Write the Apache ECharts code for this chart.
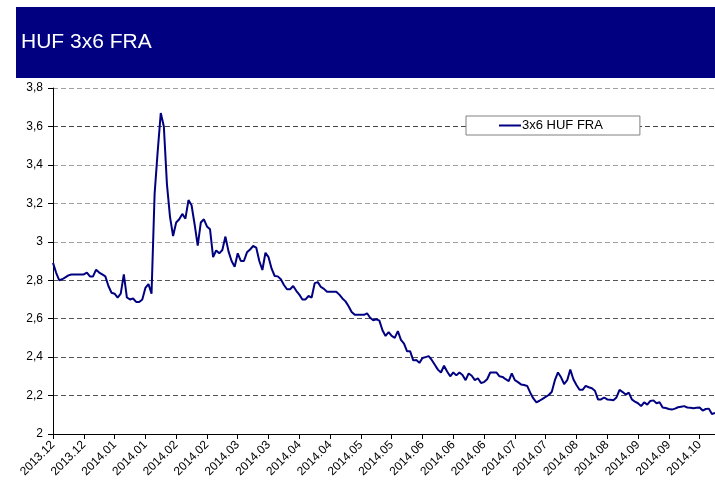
<!DOCTYPE html>
<html>
<head>
<meta charset="utf-8">
<script src="https://cdn.jsdelivr.net/npm/echarts@6/dist/echarts.min.js"></script>
<style>
  html, body { margin: 0; padding: 0; background: #fff; }
  #chart { width: 715px; height: 483px; }
</style>
</head>
<body>
<div id="chart"></div>
<script>
// x axis tick labels, one per 10 trading days
const tickLabels = [
    '2013.12', '2013.12', '2014.01', '2014.01', '2014.02', '2014.02',
    '2014.03', '2014.03', '2014.04', '2014.04', '2014.05', '2014.05',
    '2014.06', '2014.06', '2014.06', '2014.07', '2014.07', '2014.08',
    '2014.08', '2014.09', '2014.09', '2014.10'
];

const seriesName = '3x6 HUF FRA';

// daily fixings
const fraValues = [
    2.89, 2.84, 2.80, 2.805, 2.815, 2.825, 2.83, 2.83, 2.83, 2.83,
    2.83, 2.84, 2.82, 2.82, 2.855, 2.84, 2.83, 2.82, 2.77, 2.735,
    2.73, 2.71, 2.73, 2.83, 2.71, 2.70, 2.705, 2.687, 2.687, 2.70,
    2.76, 2.78, 2.73, 3.25, 3.47, 3.67, 3.60, 3.30, 3.13, 3.03,
    3.10, 3.117, 3.145, 3.12, 3.217, 3.19, 3.09, 2.98, 3.10, 3.117,
    3.08, 3.065, 2.92, 2.955, 2.94, 2.957, 3.027, 2.95, 2.90, 2.87,
    2.94, 2.90, 2.90, 2.945, 2.96, 2.978, 2.97, 2.90, 2.853, 2.943,
    2.92, 2.86, 2.822, 2.82, 2.805, 2.775, 2.753, 2.753, 2.77, 2.745,
    2.725, 2.70, 2.70, 2.718, 2.71, 2.785, 2.79, 2.765, 2.755, 2.74,
    2.74, 2.74, 2.74, 2.725, 2.705, 2.69, 2.665, 2.635, 2.62, 2.62,
    2.62, 2.62, 2.628, 2.605, 2.592, 2.597, 2.59, 2.54, 2.51, 2.53,
    2.51, 2.50, 2.535, 2.49, 2.47, 2.43, 2.43, 2.383, 2.385, 2.37,
    2.395, 2.40, 2.405, 2.385, 2.36, 2.335, 2.32, 2.355, 2.325, 2.30,
    2.32, 2.305, 2.32, 2.307, 2.28, 2.315, 2.303, 2.28, 2.29, 2.265,
    2.27, 2.285, 2.32, 2.32, 2.32, 2.30, 2.297, 2.285, 2.275, 2.315,
    2.28, 2.27, 2.258, 2.255, 2.25, 2.215, 2.185, 2.165, 2.173, 2.183,
    2.193, 2.203, 2.22, 2.28, 2.32, 2.295, 2.26, 2.28, 2.335, 2.285,
    2.255, 2.23, 2.23, 2.25, 2.243, 2.238, 2.225, 2.18, 2.18, 2.19,
    2.18, 2.178, 2.176, 2.19, 2.23, 2.218, 2.205, 2.215, 2.18, 2.168,
    2.16, 2.145, 2.165, 2.153, 2.172, 2.175, 2.16, 2.165, 2.138, 2.135,
    2.13, 2.127, 2.132, 2.139, 2.142, 2.145, 2.138, 2.136, 2.134, 2.136,
    2.138, 2.122, 2.13, 2.132, 2.104, 2.11
];

const yMin = 2;
const yMax = 3.8;
const yStep = 0.2;

const chart = echarts.init(document.getElementById('chart'));
const font = 'Liberation Sans, Arial, sans-serif';

chart.setOption({
    animation: false,
    backgroundColor: '#fff',
    textStyle: { fontFamily: font },
    graphic: [{
        type: 'rect',
        left: 16, top: 7,
        shape: { width: 699, height: 71 },
        style: { fill: '#000080' },
        z: 0
    }],
    title: {
        text: 'HUF 3x6 FRA',
        left: 16, top: 32,
        padding: [0, 5],
        textStyle: { color: '#fff', fontSize: 21, fontWeight: 'normal', fontFamily: font },
        z: 5
    },
    legend: {
        left: 466, top: 116,
        padding: [3, 37, 3, 33],
        backgroundColor: '#fff',
        borderColor: '#808080',
        borderWidth: 1,
        borderRadius: 0,
        itemWidth: 22,
        itemHeight: 2,
        icon: 'rect',
        textStyle: { color: '#000', fontSize: 13, fontFamily: font, padding: [0, 0, 0, -4] },
        data: [seriesName]
    },
    grid: { left: 53, top: 88, right: 0, bottom: 49, containLabel: false },
    xAxis: {
        type: 'value',
        min: 0,
        max: fraValues.length - 1,
        interval: 10,
        axisLine: { show: true, onZero: false, lineStyle: { color: '#000', width: 1 } },
        axisTick: { show: true, length: 5, lineStyle: { color: '#000' } },
        splitLine: { show: false },
        axisLabel: {
            rotate: 45,
            fontSize: 12,
            color: '#000',
            margin: 9,
            showMaxLabel: false,
            formatter: v => tickLabels[v / 10] || ''
        }
    },
    yAxis: {
        type: 'value',
        min: yMin,
        max: yMax,
        interval: yStep,
        axisLine: { show: true, lineStyle: { color: '#000', width: 1 } },
        axisTick: { show: true, length: 5, lineStyle: { color: '#000' } },
        axisLabel: {
            fontSize: 12,
            color: '#000',
            margin: 10,
            formatter: v => String(Math.round(v * 10) / 10).replace('.', ',')
        },
        splitLine: {
            show: true,
            showMinLine: false,
            lineStyle: {
                color: ['#555', '#555', '#555', '#555', '#a0a0a0', '#a0a0a0', '#a0a0a0', '#444', '#a0a0a0'],
                type: [5, 3],
                width: 1
            }
        }
    },
    series: [{
        name: seriesName,
        type: 'line',
        data: fraValues.map((v, i) => [i, v]),
        showSymbol: false,
        symbol: 'none',
        lineStyle: { color: '#000080', width: 2 },
        itemStyle: { color: '#000080' },
        z: 3
    }]
});
</script>
</body>
</html>
